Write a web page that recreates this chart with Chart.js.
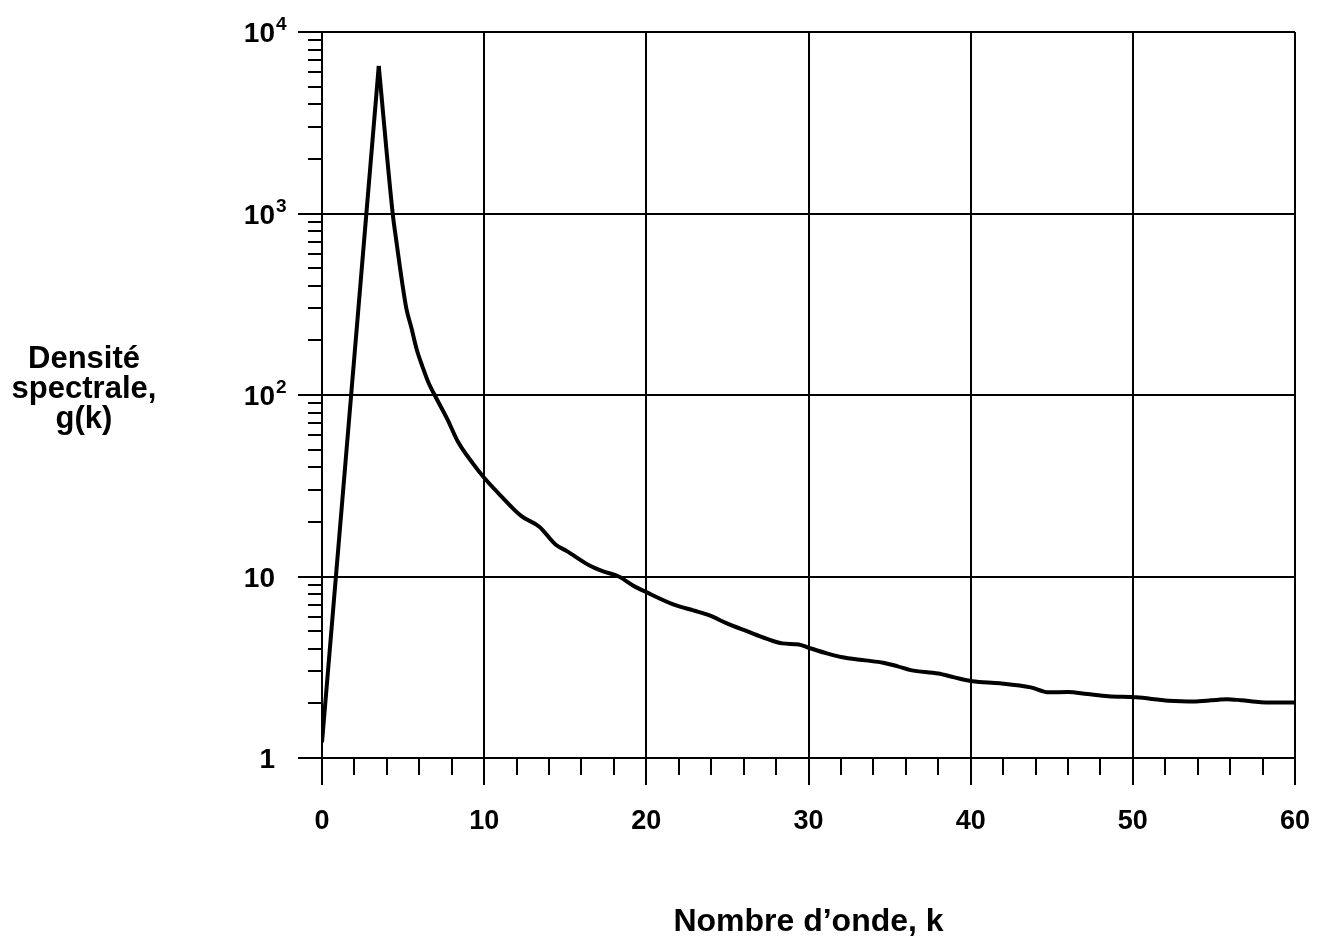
<!DOCTYPE html>
<html>
<head>
<meta charset="utf-8">
<title>Densité spectrale</title>
<script src="https://cdn.jsdelivr.net/npm/chart.js@4.4.1/dist/chart.umd.min.js"></script>
<style>
    html, body { margin: 0; padding: 0; background: #fff; }
    #wrap { width: 1317px; height: 942px; position: relative; }
</style>
</head>
<body>
<div id="wrap"><canvas id="spectrumChart"></canvas></div>
<script>
// values
const kValues = [0, 3.5, 4.36, 4.56, 4.8, 5.2, 5.5, 5.85, 6.2, 6.55, 7.05, 7.75, 8.35, 9.3, 10, 11, 12.3, 13.4, 14.4, 15.1,
    16.5, 17.3, 18.3, 19.2, 20, 21.7, 22.9, 23.9, 25, 26.2, 27.4, 28.4, 29.4, 30, 31, 32, 33.5, 34.6,
    35.5, 36.3, 38, 39, 40.1, 41.8, 43.7, 44.8, 46, 47.2, 48.5, 50.2, 52.2, 53.9, 55.8, 56.7, 57.9, 60];
const gValues = [1.22, 6500, 1000, 730, 510, 300, 237, 177, 143, 118, 96, 73, 56, 42, 35, 28, 21.5, 18.8, 15, 13.8,
    11.5, 10.7, 10, 8.9, 8.2, 7.0, 6.5, 6.1, 5.5, 5.0, 4.55, 4.28, 4.22, 4.05, 3.8, 3.6, 3.45, 3.35,
    3.2, 3.05, 2.92, 2.78, 2.65, 2.58, 2.45, 2.3, 2.31, 2.25, 2.19, 2.16, 2.07, 2.05, 2.11, 2.08, 2.03, 2.02];

const xTickValues = [0, 10, 20, 30, 40, 50, 60];
const xMinorTicks = [2, 4, 6, 8, 12, 14, 16, 18, 22, 24, 26, 28, 32, 34, 36, 38, 42, 44, 46, 48, 52, 54, 56, 58];
const yTickValues = [1, 10, 100, 1000, 10000];
const yTickBase = ['1', '10', '10', '10', '10'];
const yTickExp = ['', '', '2', '3', '4'];
const yMinorTicks = [2, 3, 4, 5, 6, 7, 8, 9, 20, 30, 40, 50, 60, 70, 80, 90,
    200, 300, 400, 500, 600, 700, 800, 900, 2000, 3000, 4000, 5000, 6000, 7000, 8000, 9000];
const yTitleLines = ['Densité', 'spectrale,', 'g(k)'];
const xTitle = 'Nombre d’onde, k';

const fontFamily = '"Liberation Sans", Arial, Helvetica, sans-serif';
Chart.defaults.font.family = fontFamily;
Chart.defaults.color = '#000';

const points = kValues.map((k, i) => ({ x: k, y: gValues[i] }));
const peakIndex = gValues.indexOf(Math.max(...gValues));

// minor ticks, y tick labels with exponents, horizontal y title
const axisExtras = {
    id: 'axisExtras',
    afterDraw(chart) {
        const ctx = chart.ctx;
        const xs = chart.scales.x;
        const ys = chart.scales.y;
        ctx.save();
        ctx.strokeStyle = '#000';
        ctx.lineWidth = 2;
        ctx.beginPath();
        yMinorTicks.forEach(v => {
            const y = Math.round(ys.getPixelForValue(v));
            ctx.moveTo(xs.left - 14, y);
            ctx.lineTo(xs.left, y);
        });
        xMinorTicks.forEach(v => {
            const x = Math.round(xs.getPixelForValue(v));
            ctx.moveTo(x, ys.bottom);
            ctx.lineTo(x, ys.bottom + 17);
        });
        ctx.stroke();

        ctx.fillStyle = '#000';
        ctx.textBaseline = 'alphabetic';
        const baseRight = xs.left - 47;
        yTickValues.forEach((v, i) => {
            const y = ys.getPixelForValue(v);
            ctx.font = 'bold 28px ' + fontFamily;
            ctx.textAlign = 'right';
            ctx.fillText(yTickBase[i], baseRight, y + 10);
            if (yTickExp[i]) {
                ctx.font = 'bold 19px ' + fontFamily;
                ctx.textAlign = 'left';
                ctx.fillText(yTickExp[i], baseRight + 1, y - 2);
            }
        });

        ctx.font = 'bold 31px ' + fontFamily;
        ctx.textAlign = 'center';
        ctx.textBaseline = 'alphabetic';
        yTitleLines.forEach((t, i) => ctx.fillText(t, 84, 368 + i * 30));
        ctx.restore();
    }
};

const spectrumCtx = document.getElementById('spectrumChart').getContext('2d');
const spectrumChart = new Chart(spectrumCtx, {
    type: 'line',
    data: {
        datasets: [{
            // rising branch, straight up to the peak
            data: points.slice(0, peakIndex + 1),
            borderColor: '#000',
            borderWidth: 4,
            pointRadius: 0,
            tension: 0,
            fill: false
        }, {
            // falling branch
            data: points.slice(peakIndex),
            borderColor: '#000',
            borderWidth: 4,
            pointRadius: 0,
            cubicInterpolationMode: 'monotone',
            fill: false
        }]
    },
    options: {
        responsive: true,
        maintainAspectRatio: false,
        animation: false,
        layout: { padding: { top: 32, right: 22, left: 0, bottom: 0 } },
        plugins: {
            legend: { display: false },
            tooltip: { enabled: false }
        },
        scales: {
            x: {
                type: 'linear',
                min: 0,
                max: 60,
                afterBuildTicks: s => { s.ticks = xTickValues.map(v => ({ value: v })); },
                afterFit: s => {
                    s.height = 184;
                    s.paddingLeft = 0;
                    s.paddingRight = 0;
                },
                grid: { color: '#000', lineWidth: 2, tickLength: 27, tickColor: '#000', tickWidth: 2 },
                border: { color: '#000', width: 2 },
                ticks: { color: '#000', font: { size: 27, weight: 'bold' }, padding: 20, maxRotation: 0 },
                title: {
                    display: true,
                    text: xTitle,
                    color: '#000',
                    font: { size: 32, weight: 'bold' },
                    padding: { top: 0, bottom: 1 }
                }
            },
            y: {
                type: 'logarithmic',
                min: 1,
                max: 10000,
                afterBuildTicks: s => { s.ticks = yTickValues.map(v => ({ value: v })); },
                afterFit: s => {
                    s.width = 322;
                    s.paddingTop = 0;
                    s.paddingBottom = 0;
                },
                grid: { color: '#000', lineWidth: 2, tickLength: 24, tickColor: '#000', tickWidth: 2 },
                border: { color: '#000', width: 2 },
                ticks: { display: false }
            }
        }
    },
    plugins: [axisExtras]
});
</script>
</body>
</html>
